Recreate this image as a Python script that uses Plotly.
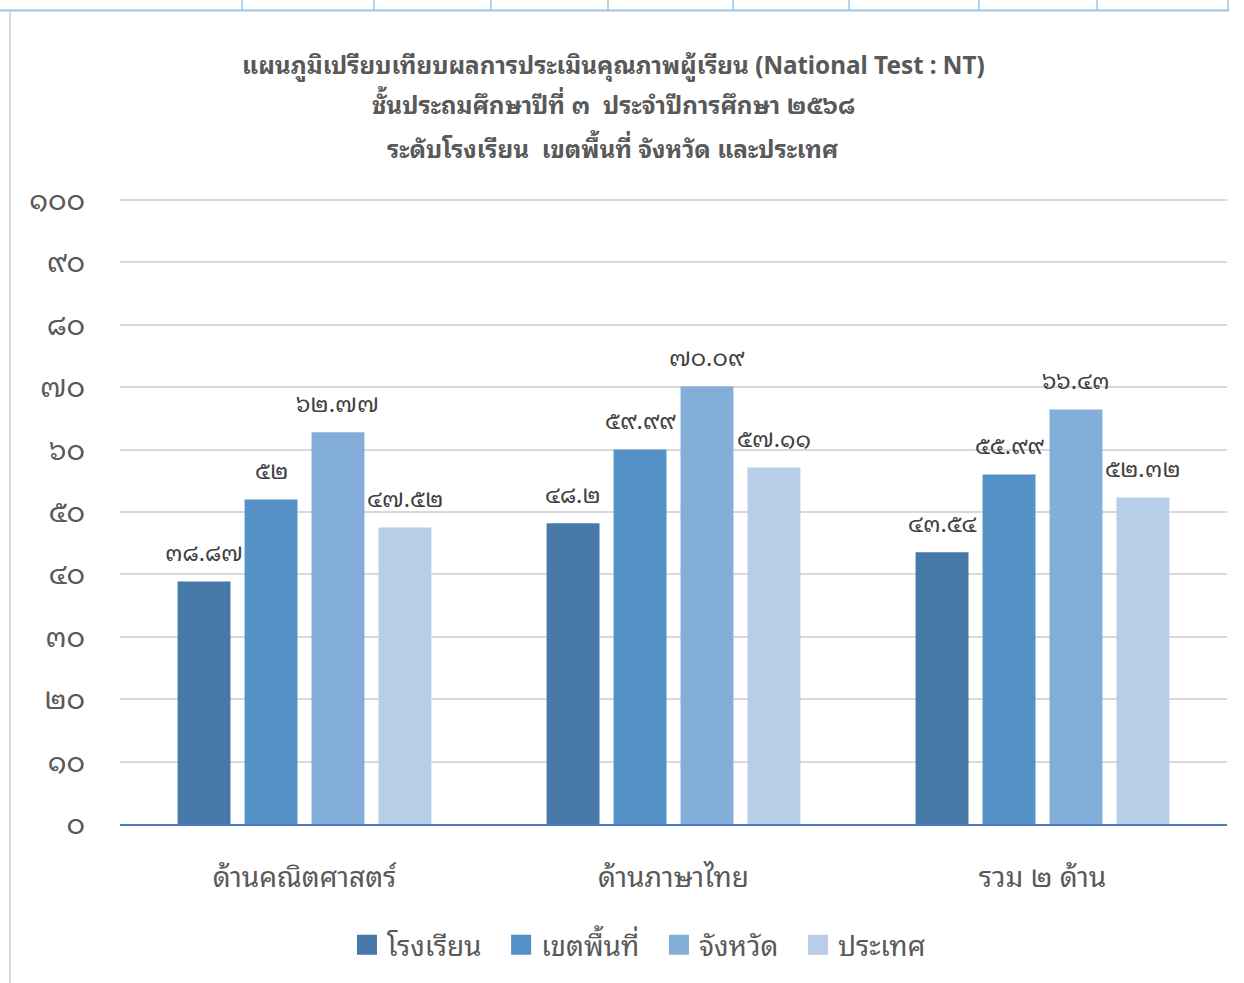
import plotly.graph_objects as go

categories = ["ด้านคณิตศาสตร์", "ด้านภาษาไทย", "รวม ๒ ด้าน"]
series_names = ["โรงเรียน", "เขตพื้นที่", "จังหวัด", "ประเทศ"]
school = [38.87, 48.2, 43.54]
district = [52, 59.99, 55.99]
province = [62.77, 70.09, 66.43]
country = [47.52, 57.11, 52.32]
series_values = [school, district, province, country]
colors = ["#4678A8", "#5491C7", "#84AEDA", "#B7CDE8"]
yticks = list(range(0, 101, 10))
title_lines = [
    "แผนภูมิเปรียบเทียบผลการประเมินคุณภาพผู้เรียน (National Test : NT)",
    "ชั้นประถมศึกษาปีที่ ๓  ประจำปีการศึกษา ๒๕๖๘",
    "ระดับโรงเรียน  เขตพื้นที่ จังหวัด และประเทศ",
]

THAI = str.maketrans("0123456789", "๐๑๒๓๔๕๖๗๘๙")


def thai(v):
    return f"{v:g}".translate(THAI)


FONT = "Noto Sans Thai Looped, Loma, Garuda, Tahoma, Noto Sans Thai, Noto Sans, sans-serif"
W, H = 1244, 983
YMAX = 100.3
L, R, T, B = 120, 17, 198, 159
PW, PH = W - L - R, H - T - B
BARGAP, GROUPGAP = 0.274, 0.21
PAD = "\u00a0\u00a0"


def px2x(px):
    return (px - L) / PW


def py2y(py):
    return (H - B - py) / PH


fig = go.Figure()
for name, vals, col in zip(series_names, series_values, colors):
    fig.add_trace(go.Bar(x=categories, y=vals, name=name, marker_color=col,
                         marker_line_width=0, showlegend=False))
# legend entries with larger square swatches
for k, (name, col) in enumerate(zip(series_names, colors)):
    label = name + (PAD if k < len(series_names) - 1 else "")
    fig.add_trace(go.Scatter(x=[None], y=[None], mode="markers", name=label,
                             marker=dict(symbol="square", size=16, color=col,
                                         line=dict(color=col, width=4))))

annotations = []
n = len(series_values)
slot = (1 - BARGAP) / n
for i, vals in enumerate(series_values):
    off = -(1 - BARGAP) / 2 + slot * (i + 0.5)
    for j, v in enumerate(vals):
        annotations.append(dict(x=j + off, y=v, xref="x", yref="y", text=thai(v),
                                showarrow=False, yshift=31, yanchor="middle",
                                font=dict(size=23.5, color="#404040", family=FONT)))

for k, (line, py) in enumerate(zip(title_lines, [63, 104, 147])):
    annotations.append(dict(x=px2x(613), y=py2y(py), xref="paper", yref="paper",
                            text=f"<b>{line}</b>", showarrow=False, yanchor="middle",
                            xanchor="center",
                            font=dict(size=24.3, color="#595959", family=FONT)))

shapes = []
# top table fragment
shapes.append(dict(type="line", xref="paper", yref="paper", x0=px2x(0), x1=px2x(1229),
                   y0=py2y(10.5), y1=py2y(10.5), line=dict(color="#9DC3E6", width=2)))
for vx in [242, 374, 491, 608, 733, 849, 979, 1097, 1228]:
    shapes.append(dict(type="line", xref="paper", yref="paper", x0=px2x(vx), x1=px2x(vx),
                       y0=py2y(0), y1=py2y(10), line=dict(color="#9DC3E6", width=1.5)))
shapes.append(dict(type="line", xref="paper", yref="paper", x0=px2x(10), x1=px2x(10),
                   y0=py2y(12), y1=py2y(983), line=dict(color="#D9D9D9", width=2)))

fig.update_layout(
    width=W, height=H,
    margin=dict(l=L, r=R, t=T, b=B),
    paper_bgcolor="white", plot_bgcolor="white",
    barmode="group", bargap=BARGAP, bargroupgap=GROUPGAP,
    font=dict(family=FONT, color="#595959"),
    annotations=annotations, shapes=shapes,
    legend=dict(orientation="h", x=px2x(639), xanchor="center", y=py2y(945),
                yanchor="middle", font=dict(size=28, color="#595959", family=FONT),
                itemwidth=30, traceorder="normal", tracegroupgap=0),
    showlegend=True,
)
fig.update_yaxes(range=[0, YMAX], tickvals=yticks, ticktext=[thai(t) for t in yticks],
                 showgrid=True, gridcolor="#D9D9D9", gridwidth=2, zeroline=False,
                 showline=False, ticks="", ticklabelstandoff=34,
                 tickfont=dict(size=28.5, color="#595959", family=FONT))
fig.update_xaxes(showline=True, linecolor="#4A7CC4", linewidth=2, ticks="",
                 ticklabelstandoff=27,
                 tickfont=dict(size=28, color="#595959", family=FONT))

fig.write_html("out.html", config={"displayModeBar": False},
               post_script="document.body.style.margin='0';")
